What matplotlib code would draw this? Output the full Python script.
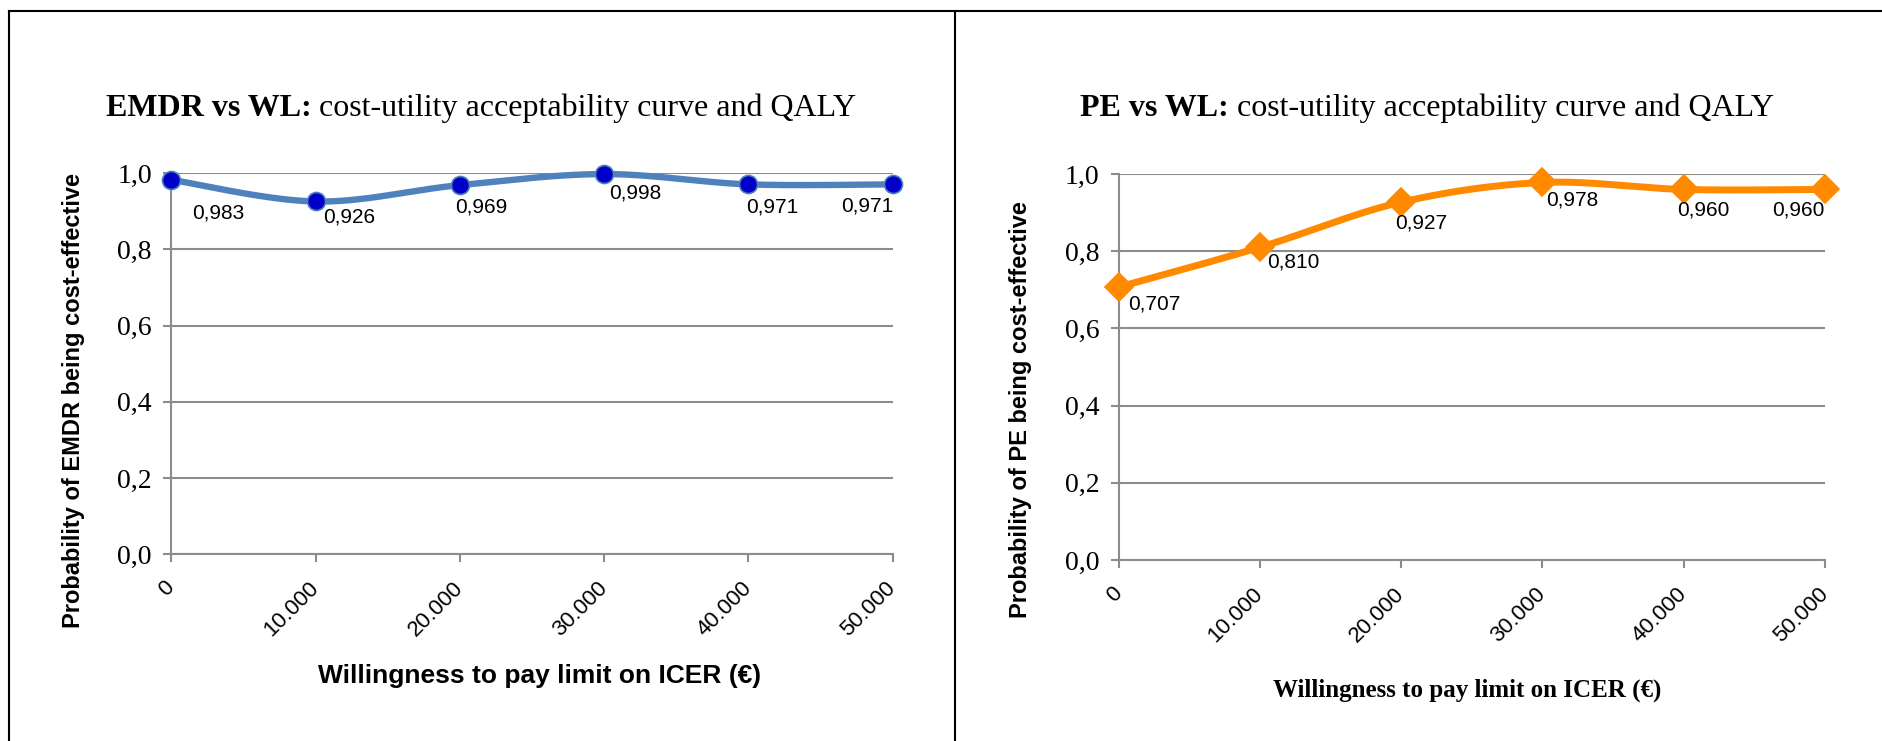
import numpy as np
import matplotlib
matplotlib.use('Agg')
import matplotlib.pyplot as plt
from matplotlib.lines import Line2D

# willingness-to-pay thresholds and their axis labels
wtp = [0, 10000, 20000, 30000, 40000, 50000]
wtp_labels = ['0', '10.000', '20.000', '30.000', '40.000', '50.000']
prob_ticks = [0.0, 0.2, 0.4, 0.6, 0.8, 1.0]
prob_labels = ['0,0', '0,2', '0,4', '0,6', '0,8', '1,0']

# probability of being cost-effective at each threshold
emdr_prob = [0.983, 0.926, 0.969, 0.998, 0.971, 0.971]
pe_prob = [0.707, 0.810, 0.927, 0.978, 0.960, 0.960]

# value label offsets from the markers, in pixels (x right, y up)
emdr_lbl_off = [(47, -33), (34, -16), (21, -22), (31, -19), (24, -23), (-25, -22)]
pe_lbl_off = [(36, -17), (33, -15), (20, -21), (30, -18), (20, -21), (-27, -21)]

W, H = 1883, 741
GRID = '#8c8c8c'
SANS = 'Liberation Sans'
SERIF = 'Liberation Serif'


def smooth(x, y, n=50):
    # Catmull-Rom pass through the points, like a spreadsheet "smoothed line"
    x = np.asarray(x, float)
    y = np.asarray(y, float)
    px = np.r_[x[0], x, x[-1]]
    py = np.r_[y[0], y, y[-1]]
    t = np.linspace(0, 1, n)
    xs, ys = [], []
    for i in range(1, len(px) - 2):
        for p, out in ((px, xs), (py, ys)):
            p0, p1, p2, p3 = p[i - 1], p[i], p[i + 1], p[i + 2]
            out.append(0.5 * (2 * p1 + (-p0 + p2) * t
                              + (2 * p0 - 5 * p1 + 4 * p2 - p3) * t ** 2
                              + (-p0 + 3 * p1 - 3 * p2 + p3) * t ** 3))
    return np.concatenate(xs), np.concatenate(ys)


def panel(rect, vals, offs, color, mk, mface, msize, lw):
    ax = fig.add_axes(rect)
    ax.set_xlim(0, 50000)
    ax.set_ylim(0, 1)
    for s in ('top', 'right'):
        ax.spines[s].set_visible(False)
    for s in ('left', 'bottom'):
        ax.spines[s].set_color(GRID)
        ax.spines[s].set_linewidth(1.5)
    ax.yaxis.grid(True, color=GRID, linewidth=1.5)
    ax.set_axisbelow(True)

    ax.set_yticks(prob_ticks)
    ax.set_yticklabels(prob_labels, fontfamily=SERIF, fontsize=20)
    ax.set_xticks(wtp)
    ax.set_xticklabels(wtp_labels, fontfamily=SANS, fontsize=16, rotation=45,
                       ha='right', va='center', rotation_mode='anchor')
    ax.tick_params(axis='y', length=6, width=1.5, color=GRID, pad=8)
    ax.tick_params(axis='x', length=6, width=1.5, color=GRID, pad=16)

    sx, sy = smooth(wtp, vals)
    ax.plot(sx, sy, color=color, linewidth=lw, solid_capstyle='round',
            clip_on=False, zorder=3)
    ax.plot(wtp, vals, linestyle='none', marker=mk, markersize=msize,
            markerfacecolor=mface, markeredgecolor=color, markeredgewidth=1.2,
            clip_on=False, zorder=4)
    for xv, v, (dx, dy) in zip(wtp, vals, offs):
        ax.annotate(f'{v:.3f}'.replace('.', ','), (xv, v),
                    xytext=(dx, dy), textcoords='offset pixels',
                    ha='center', va='center', fontfamily=SANS, fontsize=15,
                    zorder=5)
    return ax


def title(xc, base_y, bold, rest):
    r = fig.canvas.get_renderer()
    t1 = fig.text(0, 1 - base_y / H, bold, fontfamily=SERIF, fontweight='bold',
                  fontsize=23, va='baseline', ha='left')
    t2 = fig.text(0, 1 - base_y / H, rest, fontfamily=SERIF,
                  fontsize=23, va='baseline', ha='left')
    w1 = t1.get_window_extent(r).width
    w2 = t2.get_window_extent(r).width
    x0 = xc - (w1 + w2) / 2
    t1.set_x(x0 / W)
    t2.set_x((x0 + w1) / W)


fig = plt.figure(figsize=(W / 100, H / 100), dpi=100)
fig.patch.set_facecolor('white')

# page frame around the two charts
frame = dict(color='black', linewidth=1.5, transform=fig.transFigure)
top = 1 - 11 / H
fig.add_artist(Line2D([8.7 / W, 1], [top, top], **frame))
fig.add_artist(Line2D([8.7 / W, 8.7 / W], [0, top], **frame))
fig.add_artist(Line2D([954.7 / W, 954.7 / W], [0, top], **frame))

panel([171.3 / W, 1 - 554.3 / H, (892.6 - 171.3) / W, (554.3 - 173.3) / H],
      emdr_prob, emdr_lbl_off, '#4F81BD', 'o', '#0000C8', 13, 4.6)
panel([1118.6 / W, 1 - 560 / H, (1825 - 1118.6) / W, (560 - 174) / H],
      pe_prob, pe_lbl_off, '#FF8A00', 'D', '#FF8A00', 14, 5.0)

title(481, 116, 'EMDR vs WL:', ' cost-utility acceptability curve and QALY')
title(1427, 116, 'PE vs WL:', ' cost-utility acceptability curve and QALY')

fig.text(74 / W, 1 - 400 / H, 'Probability of EMDR being cost-effective',
         rotation=90, ha='center', va='center', fontfamily=SANS,
         fontweight='bold', fontsize=17)
fig.text(1021 / W, 1 - 410 / H, 'Probability of PE being cost-effective',
         rotation=90, ha='center', va='center', fontfamily=SANS,
         fontweight='bold', fontsize=17)

fig.text(540 / W, 1 - 676 / H, 'Willingness to pay limit on ICER (€)',
         ha='center', va='center', fontfamily=SANS, fontweight='bold',
         fontsize=19)
fig.text(1467 / W, 1 - 690 / H, 'Willingness to pay limit on ICER (€)',
         ha='center', va='center', fontfamily=SERIF, fontweight='bold',
         fontsize=18)

fig.savefig('out.png', dpi=100)
